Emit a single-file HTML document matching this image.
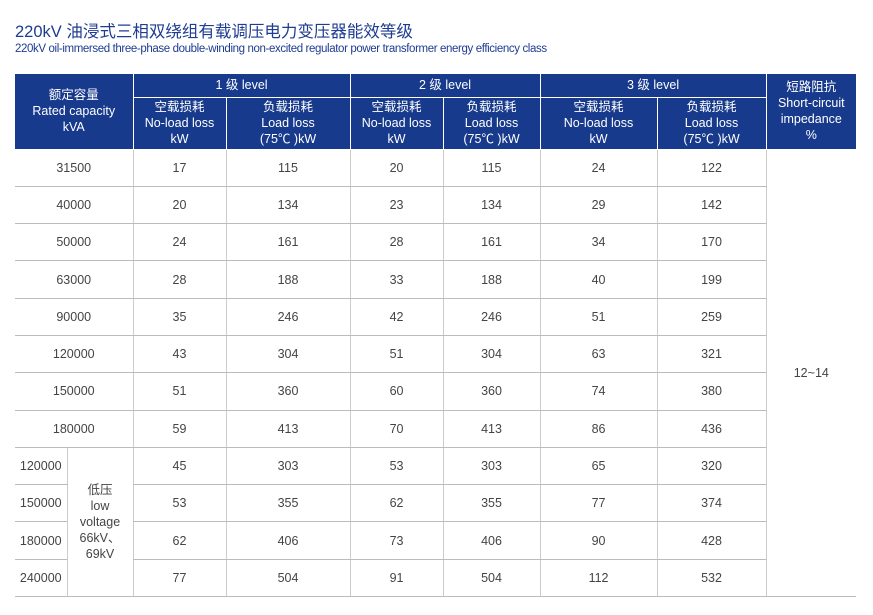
<!DOCTYPE html>
<html><head><meta charset="utf-8"><style>
body{margin:0;background:#fff;width:873px;height:615px;overflow:hidden;font-family:"Liberation Sans","Noto Sans CJK SC",sans-serif;}
.t1{position:absolute;left:15px;top:18px;font-size:16.5px;color:#1e3c92;}
.t2{position:absolute;left:15px;top:43px;font-size:11.5px;color:#1e3c92;letter-spacing:-0.38px;}
table{position:absolute;left:15px;top:74px;border-collapse:collapse;table-layout:fixed;width:841px;}
td{padding:0;text-align:center;font-size:12.5px;color:#444;line-height:16px;}
th{padding:0;background:#173a8c;color:#fff;font-weight:normal;font-size:12.5px;line-height:16px;border:1px solid #fff;border-top:none;}
tbody td{height:36.3px;border-bottom:1px solid #bbb;border-left:1px solid #ccc;}
tbody tr td:first-child{border-left:none;}
</style></head><body>
<div class="t1">220kV 油浸式三相双绕组有载调压电力变压器能效等级</div>
<div class="t2">220kV oil-immersed three-phase double-winding non-excited regulator power transformer energy efficiency class</div>
<table>
<colgroup><col style="width:52px"><col style="width:66px"><col style="width:93px"><col style="width:124px"><col style="width:93px"><col style="width:97px"><col style="width:117px"><col style="width:109px"><col style="width:90px"></colgroup>
<thead>
<tr style="height:23px"><th colspan="2" rowspan="2" style="border-left:none">额定容量<br>Rated capacity<br>kVA</th><th colspan="2">1 级 level</th><th colspan="2">2 级 level</th><th colspan="2">3 级 level</th><th rowspan="2" style="border-right:none">短路阻抗<br>Short-circuit<br>impedance<br>%</th></tr>
<tr style="height:52px"><th>空载损耗<br>No-load loss<br>kW</th><th>负载损耗<br>Load loss<br>(75℃ )kW</th><th>空载损耗<br>No-load loss<br>kW</th><th>负载损耗<br>Load loss<br>(75℃ )kW</th><th>空载损耗<br>No-load loss<br>kW</th><th>负载损耗<br>Load loss<br>(75℃ )kW</th></tr>
</thead>
<tbody>
<tr><td colspan="2">31500</td><td>17</td><td>115</td><td>20</td><td>115</td><td>24</td><td>122</td><td rowspan="12">12~14</td></tr>
<tr><td colspan="2">40000</td><td>20</td><td>134</td><td>23</td><td>134</td><td>29</td><td>142</td></tr>
<tr><td colspan="2">50000</td><td>24</td><td>161</td><td>28</td><td>161</td><td>34</td><td>170</td></tr>
<tr><td colspan="2">63000</td><td>28</td><td>188</td><td>33</td><td>188</td><td>40</td><td>199</td></tr>
<tr><td colspan="2">90000</td><td>35</td><td>246</td><td>42</td><td>246</td><td>51</td><td>259</td></tr>
<tr><td colspan="2">120000</td><td>43</td><td>304</td><td>51</td><td>304</td><td>63</td><td>321</td></tr>
<tr><td colspan="2">150000</td><td>51</td><td>360</td><td>60</td><td>360</td><td>74</td><td>380</td></tr>
<tr><td colspan="2">180000</td><td>59</td><td>413</td><td>70</td><td>413</td><td>86</td><td>436</td></tr>
<tr><td>120000</td><td rowspan="4">低压<br>low<br>voltage<br>66kV、<br>69kV</td><td>45</td><td>303</td><td>53</td><td>303</td><td>65</td><td>320</td></tr>
<tr><td>150000</td><td>53</td><td>355</td><td>62</td><td>355</td><td>77</td><td>374</td></tr>
<tr><td>180000</td><td>62</td><td>406</td><td>73</td><td>406</td><td>90</td><td>428</td></tr>
<tr><td>240000</td><td>77</td><td>504</td><td>91</td><td>504</td><td>112</td><td>532</td></tr>
</tbody></table>
</body></html>
